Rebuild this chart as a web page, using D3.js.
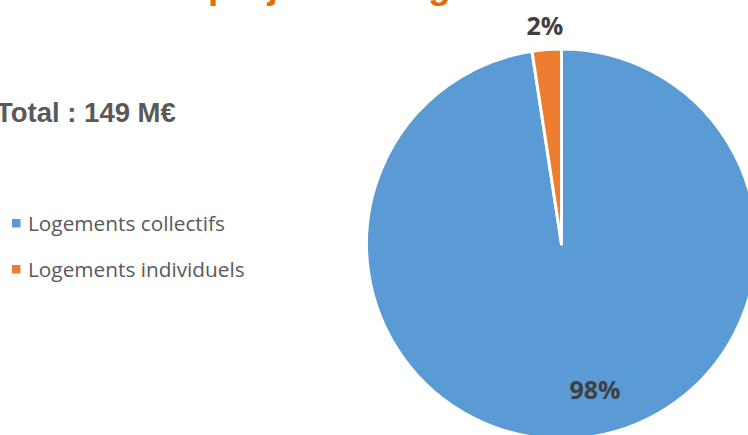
<!DOCTYPE html>
<html><head><meta charset="utf-8">
<script src="https://cdn.jsdelivr.net/npm/d3@7"></script>
<style>body{margin:0;background:#fff;overflow:hidden}</style>
</head><body>
<svg id="chart" width="748" height="435"></svg>
<script>
// ---- data ----
const categories = ["Logements collectifs", "Logements individuels"];
const values = [145.4, 3.6];
const colors = ["#5B9BD5", "#ED7D31"];
const totalText = "Total : 149 M€";
const titleText = "Montant des projets de logement";

// ---- layout ----
const svg = d3.select("#chart");
const cx = 561.5, cy = 244, r = 195;

// title (mostly cropped above the frame)
const title = svg.append("text")
  .attr("y", -2)
  .attr("font-family", "Liberation Sans, Arial, sans-serif")
  .attr("font-weight", "bold")
  .attr("font-size", 37)
  .attr("fill", "#E36C09")
  .text(titleText);
const pIdx = titleText.indexOf("projets");
const pOff = title.node().getSubStringLength(0, pIdx);
title.attr("x", 208 - pOff);

svg.append("text")
  .attr("x", -4).attr("y", 121.5)
  .attr("font-family", "Liberation Sans, Arial, sans-serif")
  .attr("font-weight", "bold")
  .attr("font-size", 27.5)
  .attr("fill", "#595959")
  .text(totalText);

// legend
const leg = svg.append("g");
categories.forEach((c, i) => {
  const y = 231 + i * 46;
  leg.append("rect").attr("x", 12).attr("y", y - 12).attr("width", 8.5).attr("height", 8.5).attr("fill", colors[i]);
  leg.append("text").attr("x", 28).attr("y", y)
    .attr("font-family", "Open Sans, sans-serif").attr("font-size", 20.8)
    .attr("fill", "#595959").text(c);
});

// pie
const pie = d3.pie().sort(null).value(d => d);
const arcs = pie(values);
const arc = d3.arc().innerRadius(0).outerRadius(r);
const g = svg.append("g").attr("transform", `translate(${cx},${cy})`);
g.selectAll("path").data(arcs).join("path")
  .attr("d", arc)
  .attr("fill", (d, i) => colors[i])
  .attr("stroke", "#fff").attr("stroke-width", 3).attr("stroke-linejoin", "round");

const total = d3.sum(values);
const fmt = d3.format(".0%");
const labelPos = [ {rad: 150, shift: -0.15}, {rad: 219, shift: 0} ];
g.selectAll("text.lbl").data(arcs).join("text")
  .attr("class", "lbl")
  .attr("transform", (d, i) => {
    const a = (d.startAngle + d.endAngle) / 2 + labelPos[i].shift;
    const rr = labelPos[i].rad;
    return `translate(${rr * Math.sin(a)},${-rr * Math.cos(a)})`;
  })
  .attr("text-anchor", "middle")
  .attr("dy", "0.36em")
  .attr("font-family", "Open Sans, sans-serif")
  .attr("font-weight", "bold")
  .attr("font-size", 25)
  .attr("fill", "#404040")
  .text(d => fmt(d.value / total));
</script>
</body></html>
